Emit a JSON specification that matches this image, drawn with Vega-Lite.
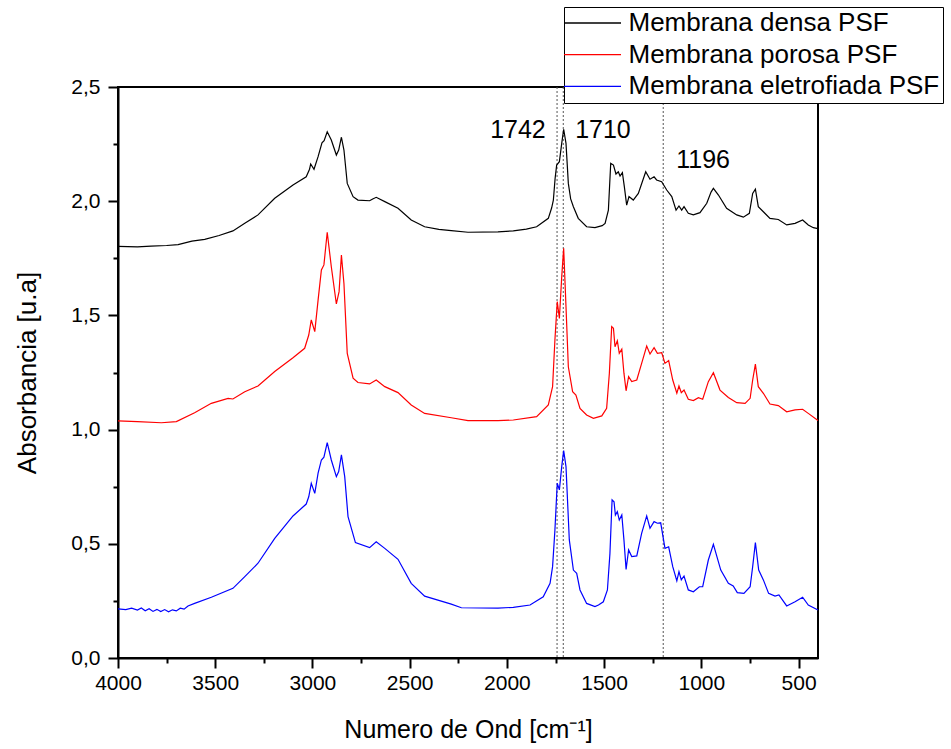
{
  "$schema": "https://vega.github.io/schema/vega-lite/v6.json",
  "width": 700,
  "height": 571,
  "autosize": {"type": "none"},
  "padding": {"left": 118, "top": 87, "right": 133, "bottom": 91},
  "background": "white",
  "config": {
    "font": "Liberation Sans",
    "view": {"stroke": "black", "strokeWidth": 2},
    "axis": {
      "domainColor": "black", "domainWidth": 2, "tickColor": "black", "tickWidth": 2,
      "labelColor": "black", "titleColor": "black", "labelFont": "Liberation Sans", "titleFont": "Liberation Sans",
      "labelFontSize": 21, "titleFontWeight": "normal", "grid": false
    }
  },
  "layer": [
    {
      "data": {"values": [{"w": 1742}, {"w": 1710}, {"w": 1196}]},
      "mark": {"type": "rule", "stroke": "#555555", "strokeDash": [2, 2], "strokeWidth": 1},
      "encoding": {"x": {"field": "w", "type": "quantitative"}}
    },
    {
      "data": {"values": [
        {"s": "Membrana densa PSF", "w": 4000, "a": 1.802}, {"s": "Membrana densa PSF", "w": 3900, "a": 1.800}, {"s": "Membrana densa PSF", "w": 3830, "a": 1.803}, {"s": "Membrana densa PSF", "w": 3750, "a": 1.806}, {"s": "Membrana densa PSF", "w": 3691, "a": 1.81}, {"s": "Membrana densa PSF", "w": 3620, "a": 1.825}, {"s": "Membrana densa PSF", "w": 3554, "a": 1.833}, {"s": "Membrana densa PSF", "w": 3480, "a": 1.85}, {"s": "Membrana densa PSF", "w": 3409, "a": 1.87}, {"s": "Membrana densa PSF", "w": 3348, "a": 1.903}, {"s": "Membrana densa PSF", "w": 3280, "a": 1.94}, {"s": "Membrana densa PSF", "w": 3194, "a": 2.013}, {"s": "Membrana densa PSF", "w": 3100, "a": 2.071}, {"s": "Membrana densa PSF", "w": 3032, "a": 2.107}, {"s": "Membrana densa PSF", "w": 3015, "a": 2.14}, {"s": "Membrana densa PSF", "w": 3009, "a": 2.163}, {"s": "Membrana densa PSF", "w": 2992, "a": 2.14}, {"s": "Membrana densa PSF", "w": 2971, "a": 2.195}, {"s": "Membrana densa PSF", "w": 2951, "a": 2.256}, {"s": "Membrana densa PSF", "w": 2940, "a": 2.265}, {"s": "Membrana densa PSF", "w": 2924, "a": 2.304}, {"s": "Membrana densa PSF", "w": 2903, "a": 2.268}, {"s": "Membrana densa PSF", "w": 2877, "a": 2.202}, {"s": "Membrana densa PSF", "w": 2865, "a": 2.224}, {"s": "Membrana densa PSF", "w": 2851, "a": 2.28}, {"s": "Membrana densa PSF", "w": 2838, "a": 2.224}, {"s": "Membrana densa PSF", "w": 2821, "a": 2.078}, {"s": "Membrana densa PSF", "w": 2791, "a": 2.02}, {"s": "Membrana densa PSF", "w": 2766, "a": 2.005}, {"s": "Membrana densa PSF", "w": 2706, "a": 2.002}, {"s": "Membrana densa PSF", "w": 2690, "a": 2.01}, {"s": "Membrana densa PSF", "w": 2672, "a": 2.017}, {"s": "Membrana densa PSF", "w": 2628, "a": 1.998}, {"s": "Membrana densa PSF", "w": 2560, "a": 1.969}, {"s": "Membrana densa PSF", "w": 2492, "a": 1.918}, {"s": "Membrana densa PSF", "w": 2423, "a": 1.888}, {"s": "Membrana densa PSF", "w": 2350, "a": 1.877}, {"s": "Membrana densa PSF", "w": 2286, "a": 1.871}, {"s": "Membrana densa PSF", "w": 2200, "a": 1.864}, {"s": "Membrana densa PSF", "w": 2046, "a": 1.866}, {"s": "Membrana densa PSF", "w": 1967, "a": 1.870}, {"s": "Membrana densa PSF", "w": 1900, "a": 1.878}, {"s": "Membrana densa PSF", "w": 1847, "a": 1.888}, {"s": "Membrana densa PSF", "w": 1787, "a": 1.925}, {"s": "Membrana densa PSF", "w": 1770, "a": 1.97}, {"s": "Membrana densa PSF", "w": 1761, "a": 2.005}, {"s": "Membrana densa PSF", "w": 1752, "a": 2.10}, {"s": "Membrana densa PSF", "w": 1744, "a": 2.158}, {"s": "Membrana densa PSF", "w": 1730, "a": 2.173}, {"s": "Membrana densa PSF", "w": 1718, "a": 2.253}, {"s": "Membrana densa PSF", "w": 1708, "a": 2.315}, {"s": "Membrana densa PSF", "w": 1696, "a": 2.253}, {"s": "Membrana densa PSF", "w": 1684, "a": 2.078}, {"s": "Membrana densa PSF", "w": 1672, "a": 2.01}, {"s": "Membrana densa PSF", "w": 1658, "a": 1.976}, {"s": "Membrana densa PSF", "w": 1633, "a": 1.925}, {"s": "Membrana densa PSF", "w": 1590, "a": 1.888}, {"s": "Membrana densa PSF", "w": 1547, "a": 1.884}, {"s": "Membrana densa PSF", "w": 1510, "a": 1.893}, {"s": "Membrana densa PSF", "w": 1495, "a": 1.903}, {"s": "Membrana densa PSF", "w": 1478, "a": 1.961}, {"s": "Membrana densa PSF", "w": 1466, "a": 2.166}, {"s": "Membrana densa PSF", "w": 1452, "a": 2.158}, {"s": "Membrana densa PSF", "w": 1439, "a": 2.119}, {"s": "Membrana densa PSF", "w": 1427, "a": 2.129}, {"s": "Membrana densa PSF", "w": 1418, "a": 2.110}, {"s": "Membrana densa PSF", "w": 1406, "a": 2.125}, {"s": "Membrana densa PSF", "w": 1396, "a": 2.064}, {"s": "Membrana densa PSF", "w": 1384, "a": 1.983}, {"s": "Membrana densa PSF", "w": 1372, "a": 2.020}, {"s": "Membrana densa PSF", "w": 1350, "a": 2.005}, {"s": "Membrana densa PSF", "w": 1324, "a": 2.034}, {"s": "Membrana densa PSF", "w": 1286, "a": 2.129}, {"s": "Membrana densa PSF", "w": 1264, "a": 2.096}, {"s": "Membrana densa PSF", "w": 1243, "a": 2.107}, {"s": "Membrana densa PSF", "w": 1230, "a": 2.093}, {"s": "Membrana densa PSF", "w": 1204, "a": 2.085}, {"s": "Membrana densa PSF", "w": 1178, "a": 2.049}, {"s": "Membrana densa PSF", "w": 1152, "a": 2.020}, {"s": "Membrana densa PSF", "w": 1130, "a": 1.961}, {"s": "Membrana densa PSF", "w": 1115, "a": 1.979}, {"s": "Membrana densa PSF", "w": 1101, "a": 1.961}, {"s": "Membrana densa PSF", "w": 1089, "a": 1.976}, {"s": "Membrana densa PSF", "w": 1067, "a": 1.947}, {"s": "Membrana densa PSF", "w": 1041, "a": 1.940}, {"s": "Membrana densa PSF", "w": 1007, "a": 1.950}, {"s": "Membrana densa PSF", "w": 972, "a": 1.991}, {"s": "Membrana densa PSF", "w": 950, "a": 2.04}, {"s": "Membrana densa PSF", "w": 938, "a": 2.056}, {"s": "Membrana densa PSF", "w": 912, "a": 2.027}, {"s": "Membrana densa PSF", "w": 870, "a": 1.969}, {"s": "Membrana densa PSF", "w": 818, "a": 1.940}, {"s": "Membrana densa PSF", "w": 784, "a": 1.930}, {"s": "Membrana densa PSF", "w": 753, "a": 1.947}, {"s": "Membrana densa PSF", "w": 736, "a": 2.034}, {"s": "Membrana densa PSF", "w": 722, "a": 2.053}, {"s": "Membrana densa PSF", "w": 707, "a": 1.976}, {"s": "Membrana densa PSF", "w": 681, "a": 1.954}, {"s": "Membrana densa PSF", "w": 647, "a": 1.925}, {"s": "Membrana densa PSF", "w": 604, "a": 1.920}, {"s": "Membrana densa PSF", "w": 561, "a": 1.896}, {"s": "Membrana densa PSF", "w": 518, "a": 1.903}, {"s": "Membrana densa PSF", "w": 479, "a": 1.918}, {"s": "Membrana densa PSF", "w": 450, "a": 1.896}, {"s": "Membrana densa PSF", "w": 424, "a": 1.884}, {"s": "Membrana densa PSF", "w": 400, "a": 1.880},

        {"s": "Membrana porosa PSF", "w": 4000, "a": 1.038}, {"s": "Membrana porosa PSF", "w": 3900, "a": 1.035}, {"s": "Membrana porosa PSF", "w": 3777, "a": 1.030}, {"s": "Membrana porosa PSF", "w": 3700, "a": 1.035}, {"s": "Membrana porosa PSF", "w": 3606, "a": 1.074}, {"s": "Membrana porosa PSF", "w": 3520, "a": 1.115}, {"s": "Membrana porosa PSF", "w": 3434, "a": 1.137}, {"s": "Membrana porosa PSF", "w": 3409, "a": 1.134}, {"s": "Membrana porosa PSF", "w": 3348, "a": 1.166}, {"s": "Membrana porosa PSF", "w": 3280, "a": 1.191}, {"s": "Membrana porosa PSF", "w": 3194, "a": 1.254}, {"s": "Membrana porosa PSF", "w": 3100, "a": 1.315}, {"s": "Membrana porosa PSF", "w": 3040, "a": 1.356}, {"s": "Membrana porosa PSF", "w": 3019, "a": 1.414}, {"s": "Membrana porosa PSF", "w": 3006, "a": 1.480}, {"s": "Membrana porosa PSF", "w": 2988, "a": 1.429}, {"s": "Membrana porosa PSF", "w": 2971, "a": 1.567}, {"s": "Membrana porosa PSF", "w": 2954, "a": 1.699}, {"s": "Membrana porosa PSF", "w": 2941, "a": 1.721}, {"s": "Membrana porosa PSF", "w": 2924, "a": 1.864}, {"s": "Membrana porosa PSF", "w": 2903, "a": 1.713}, {"s": "Membrana porosa PSF", "w": 2877, "a": 1.550}, {"s": "Membrana porosa PSF", "w": 2863, "a": 1.604}, {"s": "Membrana porosa PSF", "w": 2851, "a": 1.764}, {"s": "Membrana porosa PSF", "w": 2838, "a": 1.640}, {"s": "Membrana porosa PSF", "w": 2821, "a": 1.334}, {"s": "Membrana porosa PSF", "w": 2791, "a": 1.225}, {"s": "Membrana porosa PSF", "w": 2766, "a": 1.206}, {"s": "Membrana porosa PSF", "w": 2706, "a": 1.200}, {"s": "Membrana porosa PSF", "w": 2672, "a": 1.217}, {"s": "Membrana porosa PSF", "w": 2628, "a": 1.188}, {"s": "Membrana porosa PSF", "w": 2560, "a": 1.162}, {"s": "Membrana porosa PSF", "w": 2492, "a": 1.108}, {"s": "Membrana porosa PSF", "w": 2423, "a": 1.071}, {"s": "Membrana porosa PSF", "w": 2286, "a": 1.052}, {"s": "Membrana porosa PSF", "w": 2200, "a": 1.039}, {"s": "Membrana porosa PSF", "w": 2046, "a": 1.039}, {"s": "Membrana porosa PSF", "w": 1967, "a": 1.042}, {"s": "Membrana porosa PSF", "w": 1847, "a": 1.057}, {"s": "Membrana porosa PSF", "w": 1787, "a": 1.108}, {"s": "Membrana porosa PSF", "w": 1765, "a": 1.188}, {"s": "Membrana porosa PSF", "w": 1753, "a": 1.392}, {"s": "Membrana porosa PSF", "w": 1741, "a": 1.560}, {"s": "Membrana porosa PSF", "w": 1730, "a": 1.487}, {"s": "Membrana porosa PSF", "w": 1718, "a": 1.669}, {"s": "Membrana porosa PSF", "w": 1708, "a": 1.794}, {"s": "Membrana porosa PSF", "w": 1696, "a": 1.538}, {"s": "Membrana porosa PSF", "w": 1684, "a": 1.275}, {"s": "Membrana porosa PSF", "w": 1662, "a": 1.166}, {"s": "Membrana porosa PSF", "w": 1645, "a": 1.151}, {"s": "Membrana porosa PSF", "w": 1624, "a": 1.093}, {"s": "Membrana porosa PSF", "w": 1590, "a": 1.064}, {"s": "Membrana porosa PSF", "w": 1555, "a": 1.049}, {"s": "Membrana porosa PSF", "w": 1512, "a": 1.060}, {"s": "Membrana porosa PSF", "w": 1487, "a": 1.093}, {"s": "Membrana porosa PSF", "w": 1473, "a": 1.247}, {"s": "Membrana porosa PSF", "w": 1461, "a": 1.451}, {"s": "Membrana porosa PSF", "w": 1452, "a": 1.444}, {"s": "Membrana porosa PSF", "w": 1444, "a": 1.363}, {"s": "Membrana porosa PSF", "w": 1432, "a": 1.389}, {"s": "Membrana porosa PSF", "w": 1422, "a": 1.334}, {"s": "Membrana porosa PSF", "w": 1409, "a": 1.352}, {"s": "Membrana porosa PSF", "w": 1398, "a": 1.247}, {"s": "Membrana porosa PSF", "w": 1387, "a": 1.170}, {"s": "Membrana porosa PSF", "w": 1374, "a": 1.232}, {"s": "Membrana porosa PSF", "w": 1358, "a": 1.210}, {"s": "Membrana porosa PSF", "w": 1332, "a": 1.217}, {"s": "Membrana porosa PSF", "w": 1307, "a": 1.290}, {"s": "Membrana porosa PSF", "w": 1281, "a": 1.366}, {"s": "Membrana porosa PSF", "w": 1264, "a": 1.331}, {"s": "Membrana porosa PSF", "w": 1243, "a": 1.359}, {"s": "Membrana porosa PSF", "w": 1226, "a": 1.334}, {"s": "Membrana porosa PSF", "w": 1204, "a": 1.337}, {"s": "Membrana porosa PSF", "w": 1187, "a": 1.290}, {"s": "Membrana porosa PSF", "w": 1168, "a": 1.302}, {"s": "Membrana porosa PSF", "w": 1147, "a": 1.217}, {"s": "Membrana porosa PSF", "w": 1126, "a": 1.159}, {"s": "Membrana porosa PSF", "w": 1115, "a": 1.191}, {"s": "Membrana porosa PSF", "w": 1103, "a": 1.162}, {"s": "Membrana porosa PSF", "w": 1089, "a": 1.173}, {"s": "Membrana porosa PSF", "w": 1067, "a": 1.133}, {"s": "Membrana porosa PSF", "w": 1041, "a": 1.127}, {"s": "Membrana porosa PSF", "w": 1015, "a": 1.140}, {"s": "Membrana porosa PSF", "w": 993, "a": 1.133}, {"s": "Membrana porosa PSF", "w": 964, "a": 1.210}, {"s": "Membrana porosa PSF", "w": 938, "a": 1.249}, {"s": "Membrana porosa PSF", "w": 904, "a": 1.173}, {"s": "Membrana porosa PSF", "w": 861, "a": 1.141}, {"s": "Membrana porosa PSF", "w": 818, "a": 1.118}, {"s": "Membrana porosa PSF", "w": 775, "a": 1.115}, {"s": "Membrana porosa PSF", "w": 749, "a": 1.137}, {"s": "Membrana porosa PSF", "w": 736, "a": 1.217}, {"s": "Membrana porosa PSF", "w": 722, "a": 1.287}, {"s": "Membrana porosa PSF", "w": 707, "a": 1.188}, {"s": "Membrana porosa PSF", "w": 681, "a": 1.159}, {"s": "Membrana porosa PSF", "w": 647, "a": 1.112}, {"s": "Membrana porosa PSF", "w": 604, "a": 1.105}, {"s": "Membrana porosa PSF", "w": 561, "a": 1.078}, {"s": "Membrana porosa PSF", "w": 518, "a": 1.086}, {"s": "Membrana porosa PSF", "w": 479, "a": 1.089}, {"s": "Membrana porosa PSF", "w": 450, "a": 1.071}, {"s": "Membrana porosa PSF", "w": 400, "a": 1.040},

        {"s": "Membrana eletrofiada PSF", "w": 4000, "a": 0.215}, {"s": "Membrana eletrofiada PSF", "w": 3960, "a": 0.212}, {"s": "Membrana eletrofiada PSF", "w": 3930, "a": 0.218}, {"s": "Membrana eletrofiada PSF", "w": 3900, "a": 0.210}, {"s": "Membrana eletrofiada PSF", "w": 3880, "a": 0.219}, {"s": "Membrana eletrofiada PSF", "w": 3860, "a": 0.207}, {"s": "Membrana eletrofiada PSF", "w": 3840, "a": 0.216}, {"s": "Membrana eletrofiada PSF", "w": 3820, "a": 0.204}, {"s": "Membrana eletrofiada PSF", "w": 3800, "a": 0.213}, {"s": "Membrana eletrofiada PSF", "w": 3780, "a": 0.203}, {"s": "Membrana eletrofiada PSF", "w": 3760, "a": 0.212}, {"s": "Membrana eletrofiada PSF", "w": 3740, "a": 0.202}, {"s": "Membrana eletrofiada PSF", "w": 3720, "a": 0.211}, {"s": "Membrana eletrofiada PSF", "w": 3700, "a": 0.206}, {"s": "Membrana eletrofiada PSF", "w": 3680, "a": 0.218}, {"s": "Membrana eletrofiada PSF", "w": 3660, "a": 0.214}, {"s": "Membrana eletrofiada PSF", "w": 3640, "a": 0.228}, {"s": "Membrana eletrofiada PSF", "w": 3606, "a": 0.239}, {"s": "Membrana eletrofiada PSF", "w": 3520, "a": 0.266}, {"s": "Membrana eletrofiada PSF", "w": 3409, "a": 0.305}, {"s": "Membrana eletrofiada PSF", "w": 3348, "a": 0.356}, {"s": "Membrana eletrofiada PSF", "w": 3280, "a": 0.415}, {"s": "Membrana eletrofiada PSF", "w": 3194, "a": 0.524}, {"s": "Membrana eletrofiada PSF", "w": 3100, "a": 0.622}, {"s": "Membrana eletrofiada PSF", "w": 3032, "a": 0.674}, {"s": "Membrana eletrofiada PSF", "w": 3019, "a": 0.706}, {"s": "Membrana eletrofiada PSF", "w": 3006, "a": 0.765}, {"s": "Membrana eletrofiada PSF", "w": 2988, "a": 0.721}, {"s": "Membrana eletrofiada PSF", "w": 2971, "a": 0.809}, {"s": "Membrana eletrofiada PSF", "w": 2954, "a": 0.867}, {"s": "Membrana eletrofiada PSF", "w": 2941, "a": 0.879}, {"s": "Membrana eletrofiada PSF", "w": 2924, "a": 0.943}, {"s": "Membrana eletrofiada PSF", "w": 2903, "a": 0.867}, {"s": "Membrana eletrofiada PSF", "w": 2877, "a": 0.794}, {"s": "Membrana eletrofiada PSF", "w": 2865, "a": 0.816}, {"s": "Membrana eletrofiada PSF", "w": 2851, "a": 0.889}, {"s": "Membrana eletrofiada PSF", "w": 2834, "a": 0.794}, {"s": "Membrana eletrofiada PSF", "w": 2817, "a": 0.619}, {"s": "Membrana eletrofiada PSF", "w": 2779, "a": 0.505}, {"s": "Membrana eletrofiada PSF", "w": 2706, "a": 0.483}, {"s": "Membrana eletrofiada PSF", "w": 2672, "a": 0.509}, {"s": "Membrana eletrofiada PSF", "w": 2628, "a": 0.480}, {"s": "Membrana eletrofiada PSF", "w": 2560, "a": 0.432}, {"s": "Membrana eletrofiada PSF", "w": 2492, "a": 0.327}, {"s": "Membrana eletrofiada PSF", "w": 2423, "a": 0.271}, {"s": "Membrana eletrofiada PSF", "w": 2286, "a": 0.236}, {"s": "Membrana eletrofiada PSF", "w": 2234, "a": 0.220}, {"s": "Membrana eletrofiada PSF", "w": 2046, "a": 0.218}, {"s": "Membrana eletrofiada PSF", "w": 1967, "a": 0.222}, {"s": "Membrana eletrofiada PSF", "w": 1881, "a": 0.232}, {"s": "Membrana eletrofiada PSF", "w": 1813, "a": 0.268}, {"s": "Membrana eletrofiada PSF", "w": 1778, "a": 0.327}, {"s": "Membrana eletrofiada PSF", "w": 1765, "a": 0.400}, {"s": "Membrana eletrofiada PSF", "w": 1753, "a": 0.560}, {"s": "Membrana eletrofiada PSF", "w": 1741, "a": 0.765}, {"s": "Membrana eletrofiada PSF", "w": 1730, "a": 0.736}, {"s": "Membrana eletrofiada PSF", "w": 1718, "a": 0.838}, {"s": "Membrana eletrofiada PSF", "w": 1708, "a": 0.908}, {"s": "Membrana eletrofiada PSF", "w": 1696, "a": 0.838}, {"s": "Membrana eletrofiada PSF", "w": 1679, "a": 0.517}, {"s": "Membrana eletrofiada PSF", "w": 1658, "a": 0.385}, {"s": "Membrana eletrofiada PSF", "w": 1641, "a": 0.371}, {"s": "Membrana eletrofiada PSF", "w": 1624, "a": 0.298}, {"s": "Membrana eletrofiada PSF", "w": 1590, "a": 0.239}, {"s": "Membrana eletrofiada PSF", "w": 1547, "a": 0.225}, {"s": "Membrana eletrofiada PSF", "w": 1529, "a": 0.232}, {"s": "Membrana eletrofiada PSF", "w": 1504, "a": 0.246}, {"s": "Membrana eletrofiada PSF", "w": 1483, "a": 0.298}, {"s": "Membrana eletrofiada PSF", "w": 1470, "a": 0.458}, {"s": "Membrana eletrofiada PSF", "w": 1459, "a": 0.692}, {"s": "Membrana eletrofiada PSF", "w": 1449, "a": 0.684}, {"s": "Membrana eletrofiada PSF", "w": 1442, "a": 0.626}, {"s": "Membrana eletrofiada PSF", "w": 1432, "a": 0.641}, {"s": "Membrana eletrofiada PSF", "w": 1422, "a": 0.604}, {"s": "Membrana eletrofiada PSF", "w": 1409, "a": 0.626}, {"s": "Membrana eletrofiada PSF", "w": 1398, "a": 0.517}, {"s": "Membrana eletrofiada PSF", "w": 1387, "a": 0.388}, {"s": "Membrana eletrofiada PSF", "w": 1374, "a": 0.473}, {"s": "Membrana eletrofiada PSF", "w": 1358, "a": 0.444}, {"s": "Membrana eletrofiada PSF", "w": 1332, "a": 0.447}, {"s": "Membrana eletrofiada PSF", "w": 1307, "a": 0.546}, {"s": "Membrana eletrofiada PSF", "w": 1281, "a": 0.622}, {"s": "Membrana eletrofiada PSF", "w": 1264, "a": 0.568}, {"s": "Membrana eletrofiada PSF", "w": 1243, "a": 0.597}, {"s": "Membrana eletrofiada PSF", "w": 1226, "a": 0.590}, {"s": "Membrana eletrofiada PSF", "w": 1209, "a": 0.592}, {"s": "Membrana eletrofiada PSF", "w": 1187, "a": 0.480}, {"s": "Membrana eletrofiada PSF", "w": 1168, "a": 0.487}, {"s": "Membrana eletrofiada PSF", "w": 1147, "a": 0.400}, {"s": "Membrana eletrofiada PSF", "w": 1126, "a": 0.338}, {"s": "Membrana eletrofiada PSF", "w": 1115, "a": 0.378}, {"s": "Membrana eletrofiada PSF", "w": 1103, "a": 0.342}, {"s": "Membrana eletrofiada PSF", "w": 1089, "a": 0.359}, {"s": "Membrana eletrofiada PSF", "w": 1067, "a": 0.298}, {"s": "Membrana eletrofiada PSF", "w": 1041, "a": 0.290}, {"s": "Membrana eletrofiada PSF", "w": 1010, "a": 0.312}, {"s": "Membrana eletrofiada PSF", "w": 993, "a": 0.312}, {"s": "Membrana eletrofiada PSF", "w": 964, "a": 0.429}, {"s": "Membrana eletrofiada PSF", "w": 938, "a": 0.498}, {"s": "Membrana eletrofiada PSF", "w": 900, "a": 0.385}, {"s": "Membrana eletrofiada PSF", "w": 861, "a": 0.327}, {"s": "Membrana eletrofiada PSF", "w": 836, "a": 0.315}, {"s": "Membrana eletrofiada PSF", "w": 815, "a": 0.286}, {"s": "Membrana eletrofiada PSF", "w": 781, "a": 0.283}, {"s": "Membrana eletrofiada PSF", "w": 749, "a": 0.312}, {"s": "Membrana eletrofiada PSF", "w": 736, "a": 0.400}, {"s": "Membrana eletrofiada PSF", "w": 722, "a": 0.505}, {"s": "Membrana eletrofiada PSF", "w": 705, "a": 0.385}, {"s": "Membrana eletrofiada PSF", "w": 681, "a": 0.342}, {"s": "Membrana eletrofiada PSF", "w": 654, "a": 0.283}, {"s": "Membrana eletrofiada PSF", "w": 621, "a": 0.271}, {"s": "Membrana eletrofiada PSF", "w": 601, "a": 0.276}, {"s": "Membrana eletrofiada PSF", "w": 561, "a": 0.228}, {"s": "Membrana eletrofiada PSF", "w": 518, "a": 0.246}, {"s": "Membrana eletrofiada PSF", "w": 479, "a": 0.266}, {"s": "Membrana eletrofiada PSF", "w": 450, "a": 0.232}, {"s": "Membrana eletrofiada PSF", "w": 400, "a": 0.210}
      ]},
      "mark": {"type": "line", "strokeWidth": 1.2, "interpolate": "linear"},
      "encoding": {
        "x": {
          "field": "w", "type": "quantitative",
          "scale": {"domain": [4000, 400], "nice": false, "zero": false},
          "axis": {
            "title": "Numero de Ond [cm⁻¹]", "titleFontSize": 25,
            "values": [4000, 3750, 3500, 3250, 3000, 2750, 2500, 2250, 2000, 1750, 1500, 1250, 1000, 750, 500],
            "labelExpr": "datum.value % 500 === 0 ? format(datum.value, 'd') : ''",
            "tickSize": {"condition": {"test": "datum.value % 500 === 0", "value": 10}, "value": 5},
            "labelPadding": 4, "labelOverlap": false, "labelFlush": false, "titlePadding": 24
          }
        },
        "y": {
          "field": "a", "type": "quantitative",
          "scale": {"domain": [0, 2.5], "nice": false, "zero": false},
          "axis": {
            "title": "Absorbancia [u.a]", "titleFontSize": 26,
            "values": [0, 0.25, 0.5, 0.75, 1, 1.25, 1.5, 1.75, 2, 2.25, 2.5],
            "labelExpr": "round(datum.value * 100) % 50 === 0 ? replace(format(datum.value, '.1f'), '.', ',') : ''",
            "tickSize": {"condition": {"test": "round(datum.value * 100) % 50 === 0", "value": 10}, "value": 5},
            "labelPadding": 8, "labelOverlap": false, "labelFlush": false, "titlePadding": 30
          }
        },
        "order": {"field": "w", "type": "quantitative", "sort": "descending"},
        "color": {
          "field": "s", "type": "nominal",
          "scale": {"domain": ["Membrana densa PSF", "Membrana porosa PSF", "Membrana eletrofiada PSF"], "range": ["#000000", "#ff0000", "#0000ff"]},
          "legend": {
            "title": null, "orient": "none", "legendX": 446, "legendY": -80,
            "symbolType": "M-3,0H3", "symbolSize": 361, "symbolStrokeWidth": 1.3, "symbolOffset": 12.5,
            "labelFontSize": 26, "labelFont": "Liberation Sans", "labelColor": "black", "labelLimit": 500,
            "labelOffset": 23, "strokeColor": "black", "fillColor": "white", "padding": 3, "rowPadding": 5.7
          }
        }
      }
    },
    {
      "data": {"values": [{"w": 1943, "a": 2.312, "t": "1742"}, {"w": 1506, "a": 2.312, "t": "1710"}, {"w": 991, "a": 2.18, "t": "1196"}]},
      "mark": {"type": "text", "fontSize": 25, "font": "Liberation Sans", "color": "black", "align": "center", "baseline": "middle"},
      "encoding": {
        "x": {"field": "w", "type": "quantitative"},
        "y": {"field": "a", "type": "quantitative"},
        "text": {"field": "t"}
      }
    }
  ]
}
